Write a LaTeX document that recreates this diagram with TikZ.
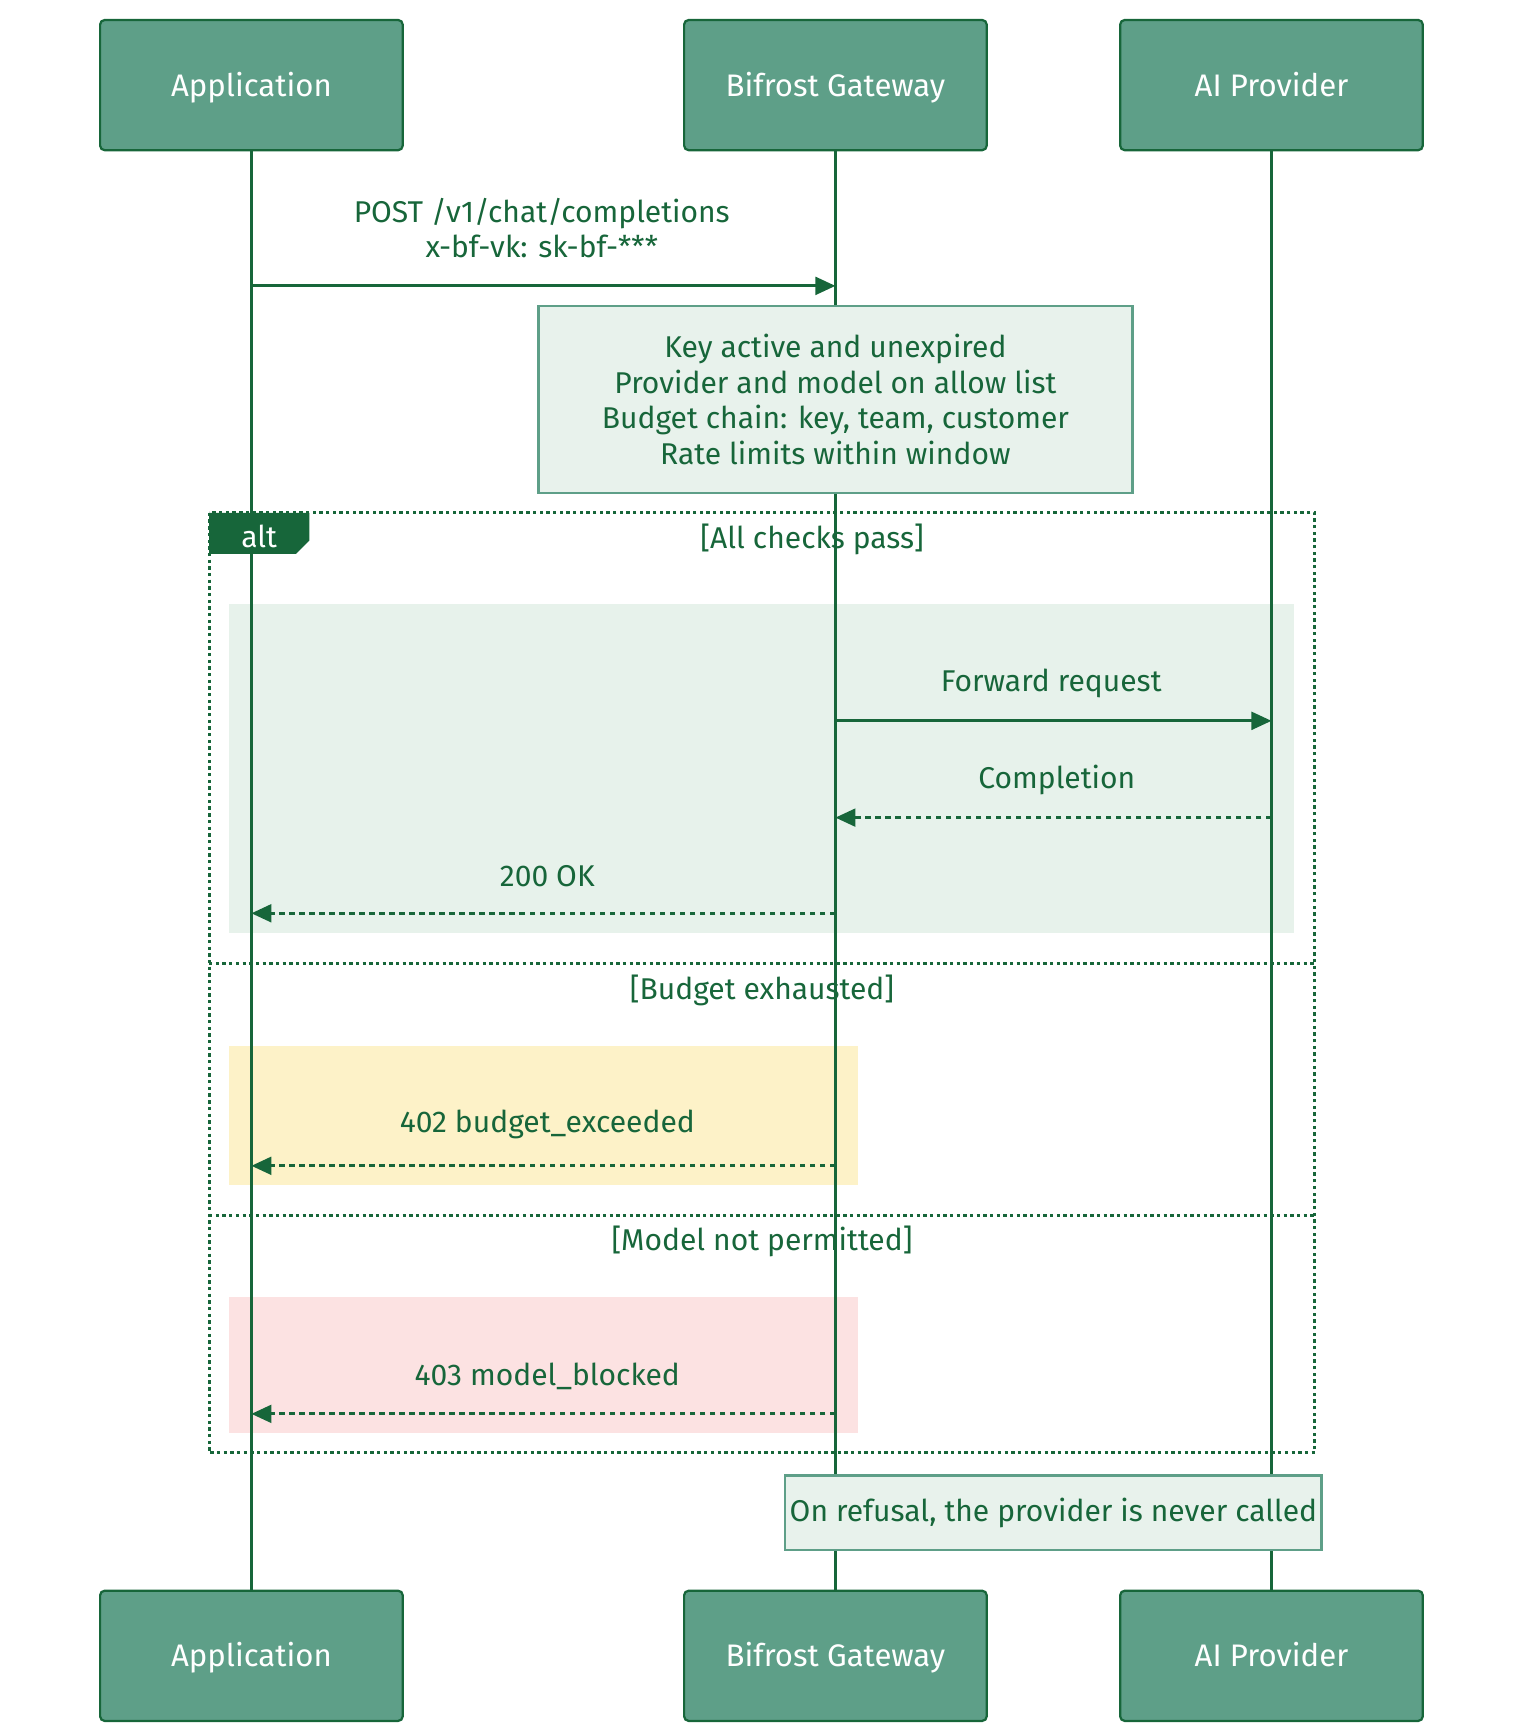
\documentclass[tikz,border=0pt]{standalone}
\usepackage{fontspec}
\setmainfont{Fira Sans}
\usetikzlibrary{arrows.meta}
\definecolor{dkgreen}{HTML}{17663A}
\definecolor{boxgreen}{HTML}{5E9F88}
\definecolor{notegreen}{HTML}{E8F2EC}
\definecolor{okgreen}{HTML}{E7F2EB}
\definecolor{warnyellow}{HTML}{FDF2C8}
\definecolor{errpink}{HTML}{FCE2E2}
\tikzset{
  actor/.style={draw=dkgreen, fill=boxgreen, line width=2pt, rounded corners=4pt,
    minimum width=272pt, minimum height=117pt, text=white, text height=21pt, text depth=1pt,
    font=\fontsize{28}{32}\selectfont},
  note/.style={draw=boxgreen, fill=notegreen, line width=2pt, text=dkgreen,
    align=center, font=\fontsize{27}{33}\selectfont},
  lbl/.style={text=dkgreen, font=\fontsize{27}{33}\selectfont, align=center},
  life/.style={dkgreen, line width=3pt},
  msg/.style={dkgreen, line width=2.5pt, -{Triangle[length=18pt,width=16pt]}},
  reply/.style={msg, dash pattern=on 5pt off 4pt},
  frame/.style={dkgreen, line width=2.5pt, dash pattern=on 3pt off 3pt}
}
\begin{document}
\begin{tikzpicture}[x=1pt, y=-1pt]
  \useasboundingbox (0,0) rectangle (1360,1557);
  % Section backgrounds
  \fill[okgreen] (206,543) rectangle (1163,839);
  \fill[warnyellow] (206,940) rectangle (771,1065);
  \fill[errpink] (206,1166) rectangle (771,1288);

  % Actors
  \node[actor] (app) at (226,76.5) {Application};
  \node[actor] (gw) at (751,76.5) {Bifrost Gateway};
  \node[actor] (ai) at (1143,76.5) {AI Provider};
  \node[actor] (appB) at (226,1488.5) {Application};
  \node[actor] (gwB) at (751,1488.5) {Bifrost Gateway};
  \node[actor] (aiB) at (1143,1488.5) {AI Provider};

  % Lifelines
  \draw[life] (app) -- (appB);
  \draw[life] (gw) -- (gwB);
  \draw[life] (ai) -- (aiB);

  % Request
  \coordinate (r1a) at (226,257); \coordinate (r1b) at (751,257);
  \draw[msg] (r1a) -- (r1b);
  \node[lbl] at (487,205) {POST /v1/chat/completions\\[-2pt]x-bf-vk: sk-bf-***};

  \node[note, minimum width=534pt, minimum height=168pt] (checks) at (751,359)
    {Key active and unexpired\\[-1pt]Provider and model on allow list\\[-1pt]Budget chain: key, team, customer\\[-1pt]Rate limits within window};

  % Alt frame
  \draw[frame] (188,461) rectangle (1182,1306);
  \draw[frame] (188,866) -- (1182,866);
  \draw[frame] (188,1093) -- (1182,1093);
  \fill[dkgreen] (188,461) -- (278,461) -- (278,486) -- (266,498) -- (188,498) -- cycle;
  \node[text=white, font=\fontsize{27}{30}\selectfont] at (233,482) {alt};
  \node[lbl] at (730,485) {[All checks pass]};
  \node[lbl] at (685,890) {[Budget exhausted]};
  \node[lbl] at (685,1116) {[Model not permitted]};

  % All checks pass
  \coordinate (f1) at (751,648); \coordinate (f2) at (1143,648);
  \draw[msg] (f1) -- (f2);
  \node[lbl] at (945,614) {Forward request};
  \coordinate (c1) at (1143,735); \coordinate (c2) at (751,735);
  \draw[reply] (c1) -- (c2);
  \node[lbl] at (950,701) {Completion};
  \coordinate (o1) at (751,821); \coordinate (o2) at (226,821);
  \draw[reply] (o1) -- (o2);
  \node[lbl] at (492,788) {200 OK};

  % Budget exhausted
  \coordinate (b1) at (751,1048); \coordinate (b2) at (226,1048);
  \draw[reply] (b1) -- (b2);
  \node[lbl] at (492,1011) {402 budget\_exceeded};

  % Model not permitted
  \coordinate (m1) at (751,1271); \coordinate (m2) at (226,1271);
  \draw[reply] (m1) -- (m2);
  \node[lbl] at (492,1237) {403 model\_blocked};

  \node[note, minimum width=482pt, minimum height=67pt, inner sep=0pt] (refusal) at (947,1360)
    {On refusal, the provider is never called};
\end{tikzpicture}
\end{document}
